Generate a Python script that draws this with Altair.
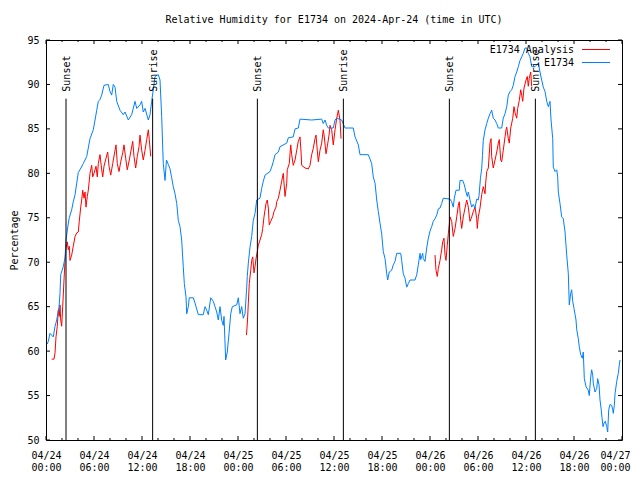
import altair as alt
import pandas as pd

# ---------------- data (hours since 2024-04-24 00:00 UTC) ----------------
obs_hours = [0.15, 0.29, 0.5, 0.91, 1.13, 1.34, 1.63, 1.75, 1.84, 2.16, 2.38, 2.5, 2.79, 2.91, 3.21, 3.41,
             3.63, 3.84, 4.04, 4.25, 4.66, 5.09, 5.5, 5.91, 6.13, 6.34, 6.54, 6.75, 6.96, 7.25, 7.79, 8.0,
             8.21, 8.41, 8.63, 8.84, 9.25, 9.66, 9.88, 10.29, 10.71, 11.13, 11.34, 11.75, 11.96, 12.16,
             12.38, 12.79, 13.0, 13.21, 13.41, 13.63, 14.04, 14.25, 14.46, 14.66, 14.88, 15.06, 15.29,
             15.5, 15.71, 15.91, 16.13, 16.34, 16.54, 16.75, 16.96, 17.16, 17.29, 17.5, 17.59, 17.79,
             17.91, 18.41, 18.63, 19.04, 19.66, 19.88, 20.09, 20.29, 20.59, 20.91, 21.13, 21.34, 21.54,
             21.75, 21.96, 22.16, 22.25, 22.46, 22.66, 22.88, 23.09, 23.29, 23.84, 24.04, 24.25, 24.46,
             24.66, 24.88, 25.09, 25.16, 25.29, 25.5, 25.71, 25.91, 26.13, 26.34, 26.75, 26.96, 27.16,
             27.38, 28.0, 28.21, 28.41, 28.63, 29.04, 29.25, 30.09, 30.29, 30.91, 31.13, 31.54, 31.75,
             33.21, 34.46, 34.66, 34.88, 35.09, 35.29, 35.91, 36.13, 36.34, 36.96, 37.38, 38.41, 38.63,
             39.04, 39.25, 40.29, 40.71, 40.91, 41.13, 41.34, 41.54, 41.75, 41.96, 42.16, 42.38, 42.59,
             42.71, 42.91, 43.21, 43.41, 43.63, 43.84, 44.34, 44.46, 44.66, 44.88, 45.09, 45.29, 45.5,
             46.13, 46.34, 46.54, 46.75, 46.84, 47.09, 47.16, 47.38, 47.59, 47.79, 48.0, 48.21, 48.41,
             48.63, 48.84, 49.04, 49.25, 49.46, 49.66, 50.5, 50.71, 50.91, 51.04, 51.25, 51.66, 51.75,
             52.09, 52.29, 52.5, 52.66, 52.79, 53.0, 53.21, 53.41, 53.63, 53.84, 54.04, 54.13, 54.31,
             54.46, 54.56, 54.66, 54.88, 55.09, 55.29, 55.5, 55.71, 55.91, 56.13, 56.34, 56.54, 56.96,
             57.16, 57.38, 57.59, 57.79, 58.0, 58.21, 58.41, 58.63, 58.84, 59.04, 59.25, 59.46, 59.66,
             59.88, 60.09, 60.29, 60.5, 60.71, 61.13, 61.54, 61.75, 61.96, 62.16, 62.38, 62.59, 62.79,
             63.0, 63.13, 63.34, 63.41, 63.63, 63.84, 63.96, 64.04, 64.25, 64.46, 64.66, 64.88, 65.09,
             65.29, 65.41, 65.59, 65.71, 65.84, 66.0, 66.25, 66.34, 66.54, 66.66, 66.84, 67.04, 67.16,
             67.29, 67.5, 67.79, 67.91, 68.09, 68.21, 68.34, 68.41, 68.63, 68.84, 68.96, 69.13, 69.25,
             69.38, 69.5, 69.63, 69.75, 69.91, 70.09, 70.21, 70.34, 70.5, 70.71, 70.84, 70.91, 71.04,
             71.13, 71.34, 71.54, 71.66, 71.75]
obs_rh = [60.8, 61.1, 62.0, 61.6, 62.8, 63.5, 65.0, 66.5, 68.6, 69.5, 70.5, 72.5, 74.4, 75.0, 75.9, 76.8,
          77.6, 78.9, 80.1, 80.4, 81.1, 81.9, 83.9, 84.9, 86.0, 87.1, 88.1, 88.3, 88.8, 89.9, 90.0, 89.2,
          88.8, 90.0, 89.7, 88.1, 87.1, 86.6, 86.9, 86.0, 86.6, 88.1, 87.3, 87.7, 88.1, 86.9,
          87.3, 86.0, 86.6, 88.1, 89.4, 90.9, 91.1, 90.5, 86.4, 81.1, 79.2, 81.5, 81.0,
          80.5, 79.5, 78.5, 77.7, 76.6, 74.7, 74.0, 72.5, 69.5, 67.6, 66.1, 64.2, 65.0,
          66.0, 66.0, 65.4, 64.1, 64.1, 65.0, 64.6, 64.1, 66.0, 65.6, 65.0, 64.4, 63.5,
          65.0, 63.5, 62.9, 63.9, 59.0, 59.9, 62.0, 64.2, 65.0, 65.2, 66.0, 64.2, 65.0,
          63.7, 64.2, 67.2, 68.4, 69.9, 71.7, 72.9, 74.7, 75.5, 77.0, 77.2, 78.3, 79.1,
          79.8, 80.2, 80.7, 81.3, 82.1, 82.4, 83.0, 83.4, 84.0, 84.1, 85.0, 85.1, 86.1,
          86.0, 86.1, 85.6, 86.0, 85.4, 85.1, 85.1, 86.0, 86.2, 86.0, 85.1, 85.1, 84.1,
          83.2, 82.1, 82.1, 81.1, 79.6, 78.9, 77.0, 75.7, 74.4, 73.2, 71.2, 70.4, 68.7,
          68.0, 68.9, 69.1, 69.7, 70.1, 71.0, 71.0, 70.2, 68.7, 68.2, 67.2, 67.6, 68.0,
          68.0, 68.6, 69.7, 71.0, 70.3, 71.0, 70.4, 70.1, 71.6, 72.7, 73.5, 74.0, 74.6,
          74.9, 75.3, 76.0, 76.1, 76.6, 77.2, 77.1, 76.8, 76.2, 77.2, 78.1, 78.1, 79.2,
          79.2, 78.7, 77.9, 77.4, 77.9, 77.0, 76.2, 76.5, 76.1, 77.1, 77.0, 77.5, 79.5,
          80.5, 82.0, 83.7, 84.9, 85.6, 86.2, 86.7, 87.1, 86.2, 86.0, 85.6, 85.1, 85.1,
          86.2, 86.7, 87.5, 88.8, 89.2, 89.4, 89.9, 90.9, 91.4, 92.0, 92.7, 93.1, 93.5,
          94.1, 94.1, 93.5, 93.1, 92.0, 92.0, 92.4, 91.4, 90.5, 89.7, 89.2, 88.1, 87.5,
          88.1, 86.0, 83.9, 80.7, 80.2, 80.4, 79.6, 77.9, 76.6, 75.1, 74.9, 73.4, 70.8,
          68.7, 65.2, 66.5, 66.9, 65.6, 64.8, 63.5, 62.4, 61.4, 60.5, 59.6, 59.2, 59.9,
          56.9, 56.0, 55.6, 55.0, 57.1, 57.9, 57.3, 56.4, 55.4, 55.8, 56.9, 56.2, 54.5,
          53.6, 52.5, 51.5, 51.9, 52.1, 51.5, 50.9, 53.4, 54.0, 53.9, 53.4, 53.0, 53.9,
          55.2, 56.6, 57.5, 58.4, 59.0]

ana1_hours = [0.71, 1.0, 1.13, 1.25, 1.41, 1.54, 1.66, 1.75, 1.84, 1.96, 2.09, 2.25, 2.38, 2.5, 2.66,
              2.79, 2.91, 3.0, 3.21, 3.41, 3.63, 3.84, 4.04, 4.16, 4.34, 4.46, 4.59, 4.75, 4.88, 5.0,
              5.16, 5.29, 5.5, 5.71, 5.84, 6.0, 6.25, 6.41, 6.54, 6.75, 6.96, 7.09, 7.25, 7.5, 7.71,
              7.88, 8.09, 8.34, 8.63, 8.75, 8.91, 9.13, 9.34, 9.59, 9.75, 9.96, 10.16, 10.41, 10.59,
              10.84, 11.0, 11.21, 11.41, 11.63, 11.75, 11.96, 12.16, 12.38, 12.59, 12.79, 12.91, 13.09]
ana1_rh = [59.1, 59.1, 59.8, 61.6, 62.8, 64.6, 63.9, 65.2, 63.5, 62.8, 65.0, 68.0, 70.2, 71.6, 72.3,
           71.4, 71.8, 70.2, 70.8, 71.8, 72.9, 73.3, 73.4, 74.6, 76.2, 77.0, 78.1, 77.2, 77.9, 76.2,
           77.4, 78.1, 80.0, 80.9, 79.6, 80.0, 80.8, 79.6, 81.1, 82.1, 80.4, 79.6, 80.8, 81.7, 82.4,
           80.8, 79.8, 81.1, 82.6, 83.2, 81.1, 80.2, 81.3, 82.3, 83.2, 81.7, 80.4, 81.5, 82.4,
           83.6, 81.9, 80.6, 81.9, 83.0, 84.3, 82.6, 81.5, 82.6, 83.8, 84.9, 83.8, 81.9]

ana2_hours = [25.06, 25.19, 25.29, 25.41, 25.59, 25.71, 25.84, 26.0, 26.13, 26.25, 26.41, 26.54, 26.75,
              26.96, 27.09, 27.25, 27.5, 27.66, 27.79, 27.91, 28.09, 28.34, 28.5, 28.75, 28.84, 29.04,
              29.25, 29.46, 29.66, 29.88, 30.09, 30.16, 30.41, 30.59, 30.71, 30.91, 31.13, 31.34,
              31.54, 31.75, 31.88, 31.96, 32.38, 32.79, 33.0, 33.21, 33.41, 33.63, 33.75, 33.91,
              34.04, 34.25, 34.46, 34.66, 34.79, 35.0, 35.16, 35.38, 35.5, 35.71, 35.91, 36.13,
              36.34, 36.54, 36.75, 36.88]
ana2_rh = [61.8, 63.5, 65.4, 67.6, 69.1, 70.2, 70.6, 68.8, 69.5, 70.4, 71.2, 71.9, 72.5,
           73.1, 73.8, 75.1, 76.6, 77.0, 76.1, 74.2, 74.6, 75.1, 75.7, 76.2, 76.8, 77.2,
           78.1, 79.1, 80.0, 77.4, 78.9, 80.4, 81.1, 83.2, 82.1, 80.9, 81.5, 82.6,
           83.6, 84.1, 82.4, 80.9, 80.6, 80.5, 80.9, 82.1, 82.8, 83.9, 84.3, 82.6,
           81.3, 82.6, 83.4, 84.9, 84.1, 82.2, 83.0, 84.3, 85.4, 84.9, 83.2, 84.9,
           86.2, 87.1, 86.0, 83.9]

ana3_hours = [48.63, 48.75, 48.91, 49.04, 49.25, 49.46, 49.59, 49.75, 49.88, 50.0, 50.16, 50.29, 50.41,
              50.5, 50.71, 50.91, 51.13, 51.34, 51.54, 51.66, 51.84, 51.96, 52.16, 52.38, 52.59, 52.79,
              53.0, 53.21, 53.41, 53.63, 53.84, 53.91, 54.04, 54.25, 54.46, 54.66, 54.88, 54.96, 55.09,
              55.29, 55.5, 55.63, 55.71, 55.91, 56.13, 56.34, 56.54, 56.66, 56.84, 56.96, 57.16, 57.38,
              57.5, 57.59, 57.79, 57.91, 58.09, 58.34, 58.5, 58.63, 58.84, 58.96, 59.16, 59.34, 59.46,
              59.59, 59.75, 60.0, 60.16, 60.29, 60.41, 60.59, 60.71]
ana3_rh = [70.8, 69.1, 68.4, 69.3, 70.2, 71.4, 72.3, 72.7, 70.8, 70.2, 71.9, 73.2, 74.2,
           75.1, 74.6, 72.9, 73.8, 75.1, 76.4, 76.8, 74.7, 73.8, 75.1, 76.1, 77.0, 76.2,
           74.6, 75.1, 75.7, 76.2, 74.9, 73.8, 75.1, 76.1, 77.6, 78.5, 77.7, 78.9, 80.2,
           80.6, 83.4, 83.9, 81.9, 80.6, 81.5, 82.4, 83.4, 83.8, 81.5, 81.3, 82.6, 84.1,
           84.9, 85.2, 83.9, 83.4, 85.1, 86.2, 87.5, 86.8, 86.2, 87.3, 88.2, 89.4, 88.8,
           88.1, 89.6, 90.5, 90.9, 89.8, 90.7, 91.4, 89.8]

sunset_hours = [2.5, 26.42, 50.42]
sunrise_hours = [13.33, 37.17, 61.17]
sun_line_top = 88.4
y_tick_values = [50, 55, 60, 65, 70, 75, 80, 85, 90, 95]
major_tick_hours = [0, 6, 12, 18, 24, 30, 36, 42, 48, 54, 60, 66, 72]
minor_tick_hours = [h for h in range(0, 73, 2) if h % 6 != 0]

series_names = ["E1734 Analysis", "E1734"]
series_colors = ["#ff0000", "#0080ff"]

# ---------------- helpers ----------------
BASE = pd.Timestamp("2024-04-24T00:00:00Z")


def iso(h):
    return (BASE + pd.Timedelta(hours=h)).strftime("%Y-%m-%dT%H:%M:%SZ")


def ms(h):
    return int((BASE + pd.Timedelta(hours=h)).value // 1_000_000)


obs_df = pd.DataFrame({"t": [iso(h) for h in obs_hours], "rh": obs_rh})
ana_df = pd.concat([
    pd.DataFrame({"t": [iso(h) for h in hs], "rh": vs, "run": i})
    for i, (hs, vs) in enumerate([(ana1_hours, ana1_rh), (ana2_hours, ana2_rh), (ana3_hours, ana3_rh)])
])
sun_df = pd.DataFrame({
    "t": [iso(h) for h in sunset_hours + sunrise_hours],
    "label": ["Sunset"] * len(sunset_hours) + ["Sunrise"] * len(sunrise_hours),
    "top": [sun_line_top] * (len(sunset_hours) + len(sunrise_hours)),
})
major_df = pd.DataFrame({"t": [iso(h) for h in major_tick_hours]})
minor_df = pd.DataFrame({"t": [iso(h) for h in minor_tick_hours]})
ytick_df = pd.DataFrame({"v": y_tick_values})

W, H = 576, 400
FONT = "DejaVu Sans Mono"

xscale = alt.Scale(type="utc", domain=[ms(0), ms(72)], nice=False)
yscale = alt.Scale(domain=[50, 95], nice=False, zero=False)

xaxis = alt.Axis(
    values=[ms(h) for h in major_tick_hours],
    labelExpr="[utcFormat(datum.value, '%m/%d'), utcFormat(datum.value, '%H:%M')]",
    tickSize=0, domain=False, grid=False, labelPadding=10, labelLineHeight=12,
    labelFlush=False, labelOverlap=False, title=None,
    labelOffset={"condition": {"test": f"datum.value >= {ms(72)}", "value": -7}, "value": 0},
)
yaxis = alt.Axis(
    values=y_tick_values, tickSize=0, domain=False, grid=False, labelPadding=7,
    title="Percentage", titleX=-32, titleY=200, titleAngle=270,
    titleAlign="center", titleBaseline="middle",
)


def X():
    return alt.X("t:T", scale=xscale, axis=xaxis)


def Y(field):
    return alt.Y(field, scale=yscale, axis=yaxis)


ana = alt.Chart(ana_df).mark_line(color=series_colors[0], strokeWidth=1, clip=True).encode(
    x=X(), y=Y("rh:Q"), detail="run:N"
)
obs = alt.Chart(obs_df).mark_line(color=series_colors[1], strokeWidth=1, clip=True).encode(
    x=X(), y=Y("rh:Q")
)
sun_rules = alt.Chart(sun_df).mark_rule(color="black", strokeWidth=1).encode(
    x=X(), y=Y("top:Q"), y2=alt.value(H)
)
sun_text = alt.Chart(sun_df).mark_text(
    angle=270, align="left", baseline="middle", dx=7, dy=1, font=FONT, fontSize=10, color="black"
).encode(x=X(), y=Y("top:Q"), text="label:N")

tick_layers = []
for df, ln in [(major_df, 4), (minor_df, 2)]:
    tick_layers.append(alt.Chart(df).mark_rule(color="black").encode(
        x=X(), y=alt.value(H), y2=alt.value(H - ln)))
    tick_layers.append(alt.Chart(df).mark_rule(color="black").encode(
        x=X(), y=alt.value(0), y2=alt.value(ln)))
tick_layers.append(alt.Chart(ytick_df).mark_rule(color="black").encode(
    y=Y("v:Q"), x=alt.value(0), x2=alt.value(4)))
tick_layers.append(alt.Chart(ytick_df).mark_rule(color="black").encode(
    y=Y("v:Q"), x=alt.value(W), x2=alt.value(W - 4)))

legend_layers = []
for i, (name, col) in enumerate(zip(series_names, series_colors)):
    row_y = 10 + 13 * i
    legend_layers.append(alt.Chart(pd.DataFrame({"name": [name]})).mark_text(
        align="right", baseline="middle", font=FONT, fontSize=10, color="black"
    ).encode(text="name:N", x=alt.value(528), y=alt.value(row_y)))
    legend_layers.append(alt.Chart(pd.DataFrame({"name": [name]})).mark_rule(
        color=col, strokeWidth=1
    ).encode(x=alt.value(536), x2=alt.value(564), y=alt.value(row_y - 0.5)))

chart = alt.layer(
    ana, obs, sun_rules, sun_text, *tick_layers, *legend_layers
).properties(
    width=W, height=H,
    autosize="none",
    padding={"left": 38, "top": 32, "right": 10, "bottom": 32},
    title=alt.Title("Relative Humidity for E1734 on 2024-Apr-24 (time in UTC)",
                    font=FONT, fontSize=10, fontWeight="normal", color="black",
                    anchor="middle", offset=10),
).configure_view(stroke="black", strokeWidth=1).configure_axis(
    labelFont=FONT, labelFontSize=10, labelColor="black",
    titleFont=FONT, titleFontSize=10, titleFontWeight="normal", titleColor="black",
)

chart.save("out.html", embed_options={"renderer": "svg", "actions": False})
